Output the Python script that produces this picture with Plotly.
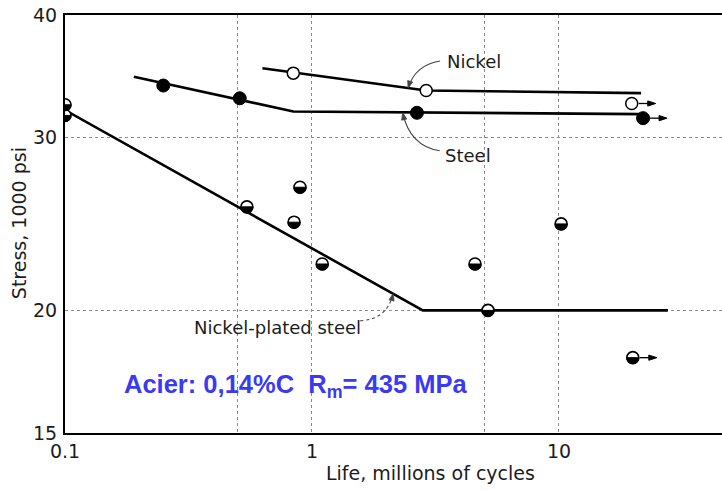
import numpy as np
import plotly.graph_objects as go

# ---- data: fatigue life (millions of cycles) vs stress (1000 psi) ----
nickel_x = [0.84, 2.9, 19.7]
nickel_y = [34.9, 33.5, 32.5]
nickel_runout = [False, False, True]
nickel_curve_x = [0.63, 2.9, 21.5]
nickel_curve_y = [35.3, 33.5, 33.3]

steel_x = [0.25, 0.51, 2.66, 21.9]
steel_y = [33.9, 32.9, 31.8, 31.4]
steel_runout = [False, False, False, True]
steel_curve_x = [0.19, 0.84, 21.5]
steel_curve_y = [34.6, 31.9, 31.7]

plated_x = [0.1, 0.1, 0.545, 0.894, 0.846, 1.10, 4.57, 5.16, 10.2, 19.9]
plated_y = [32.4, 31.6, 25.5, 26.7, 24.6, 22.3, 22.3, 20.0, 24.5, 17.9]
plated_runout = [False] * 9 + [True]
plated_curve_x = [0.1, 2.81, 27.6]
plated_curve_y = [32.0, 20.0, 20.0]

x_tick_vals = [0.1, 1, 10]
x_tick_text = ["0.1", "1", "10"]
x_minor_grid = [0.5, 5]
y_tick_vals = [15, 20, 30, 40]
y_tick_text = ["15", "20", "30", "40"]

# curve labels: (text, label x, label y, arrow tip x, arrow tip y,
#                tail offset px, control offset px, dotted)
curve_labels = [
    ("Nickel", 3.45, 35.9, 2.45, 33.7, (32, 27), (7, 23), False),
    ("Steel", 3.39, 28.8, 2.33, 31.8, (37, -38), (7, -33), False),
    ("Nickel-plated steel", 0.327, 19.2, 2.13, 20.8, (-33, -27), (-6, -26), True),
]

INK = "#1c1c1c"
FONT = "DejaVu Sans"
GRID = dict(gridcolor="#8c8c8c", griddash="dot", gridwidth=1)

fig = go.Figure()

for cx, cy in [(nickel_curve_x, nickel_curve_y),
               (steel_curve_x, steel_curve_y),
               (plated_curve_x, plated_curve_y)]:
    fig.add_trace(go.Scatter(x=cx, y=cy, mode="lines",
                             line=dict(color="black", width=2.6),
                             hoverinfo="skip", showlegend=False))

# open circles (nickel)
fig.add_trace(go.Scatter(x=nickel_x, y=nickel_y, mode="markers",
                         marker=dict(symbol="circle", size=12, color="white",
                                     line=dict(color="black", width=1.5)),
                         showlegend=False))
# filled circles (steel)
fig.add_trace(go.Scatter(x=steel_x, y=steel_y, mode="markers",
                         marker=dict(symbol="circle", size=13, color="black",
                                     line=dict(color="black", width=1)),
                         showlegend=False))
# half-filled circles (nickel-plated steel): white base, lower half added below
fig.add_trace(go.Scatter(x=plated_x, y=plated_y, mode="markers",
                         marker=dict(symbol="circle", size=12, color="white",
                                     line=dict(color="black", width=1.6)),
                         showlegend=False))

shapes = []
R = 6.0
K = 0.5523 * R
lower_half = (f"M {-R},0 C {-R},{-K} {-K},{-R} 0,{-R} "
              f"C {K},{-R} {R},{-K} {R},0 Z")
for px, py in zip(plated_x, plated_y):
    shapes.append(dict(type="path", xref="x", yref="y",
                       xsizemode="pixel", ysizemode="pixel",
                       xanchor=px, yanchor=py, path=lower_half,
                       fillcolor="black", line=dict(color="black", width=1),
                       layer="above"))


def runout_arrow(px, py, start):
    return [
        dict(type="path", xref="x", yref="y", xsizemode="pixel",
             ysizemode="pixel", xanchor=px, yanchor=py,
             path=f"M {start},0 L {start + 11},0",
             line=dict(color="black", width=1.3), layer="above"),
        dict(type="path", xref="x", yref="y", xsizemode="pixel",
             ysizemode="pixel", xanchor=px, yanchor=py,
             path=f"M {start + 9},2.6 L {start + 17},0 L {start + 9},-2.6 Z",
             fillcolor="black", line=dict(color="black", width=1),
             layer="above"),
    ]


for xs, ys, flags in [(nickel_x, nickel_y, nickel_runout),
                      (steel_x, steel_y, steel_runout),
                      (plated_x, plated_y, plated_runout)]:
    for px, py, f in zip(xs, ys, flags):
        if f:
            shapes += runout_arrow(px, py, 7)

annotations = []
for text, lx, ly, tx, ty, tail, ctrl, dotted in curve_labels:
    shapes.append(dict(type="path", xref="x", yref="y", xsizemode="pixel",
                       ysizemode="pixel", xanchor=tx, yanchor=ty,
                       path=f"M {tail[0]},{tail[1]} Q {ctrl[0]},{ctrl[1]} 0,0",
                       line=dict(color="#444", width=1.1,
                                 dash="dot" if dotted else "solid"),
                       layer="above"))
    ux, uy = -ctrl[0], -ctrl[1]
    n = np.hypot(ux, uy)
    ux, uy = ux / n, uy / n
    bx, by = -7 * ux, -7 * uy
    head = (f"M 0,0 L {bx - 2.6 * uy:.2f},{by + 2.6 * ux:.2f} "
            f"L {bx + 2.6 * uy:.2f},{by - 2.6 * ux:.2f} Z")
    shapes.append(dict(type="path", xref="x", yref="y", xsizemode="pixel",
                       ysizemode="pixel", xanchor=tx, yanchor=ty, path=head,
                       fillcolor="#444", line=dict(color="#444", width=0.8),
                       layer="above"))
    annotations.append(dict(x=np.log10(lx), y=np.log10(ly), xref="x", yref="y",
                            text=text, showarrow=False, xanchor="left",
                            yanchor="middle",
                            font=dict(family=FONT, size=18, color=INK)))

annotations += [
    dict(x=0.557, y=-0.096, xref="paper", yref="paper",
         text="Life, millions of cycles", showarrow=False,
         xanchor="center", yanchor="middle",
         font=dict(family=FONT, size=19, color=INK)),
    dict(x=-0.070, y=0.502, xref="paper", yref="paper",
         text="Stress, 1000 psi", showarrow=False, textangle=-90,
         xanchor="center", yanchor="middle",
         font=dict(family=FONT, size=19, color=INK)),
    dict(x=0.086, y=0.112, xref="paper", yref="paper",
         text="Acier: 0,14%C\u00a0\u00a0R<sub>m</sub>= 435 MPa",
         showarrow=False, xanchor="left", yanchor="middle",
         font=dict(family="Liberation Sans", size=25.5, color="#3a3af5",
                   weight="bold")),
]

fig.update_layout(
    width=722, height=490,
    margin=dict(l=65, r=0, t=15, b=57),
    paper_bgcolor="white", plot_bgcolor="white",
    showlegend=False,
    shapes=shapes, annotations=annotations,
    xaxis=dict(type="log", range=[-1, 1.66],
               tickvals=x_tick_vals, ticktext=x_tick_text,
               showgrid=True, **GRID,
               minor=dict(tickvals=x_minor_grid, showgrid=True, ticks="",
                          **GRID),
               zeroline=False,
               showline=True, linecolor="black", linewidth=2, mirror=True,
               ticks="", ticklabelstandoff=0,
               tickfont=dict(family=FONT, size=19, color=INK)),
    yaxis=dict(type="log", range=[np.log10(15), np.log10(40)],
               tickvals=y_tick_vals, ticktext=y_tick_text,
               showgrid=True, **GRID, zeroline=False,
               showline=True, linecolor="black", linewidth=2, mirror=False,
               ticks="", ticklabelstandoff=2,
               tickfont=dict(family=FONT, size=19, color=INK)),
)

fig.write_html("out.html")
